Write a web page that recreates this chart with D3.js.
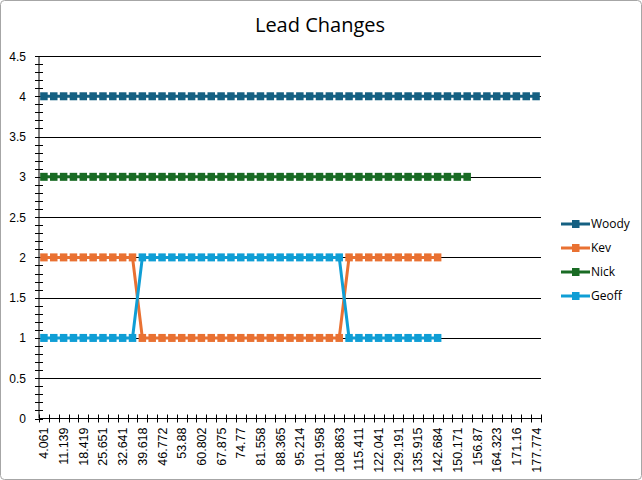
<!DOCTYPE html>
<html>
<head>
<meta charset="utf-8">
<script src="https://cdn.jsdelivr.net/npm/d3@7"></script>
<style>
  html, body { margin: 0; padding: 0; background: #fff; }
  svg { display: block; }
  text { font-family: "Liberation Sans", Arial, sans-serif; fill: #000; }
</style>
</head>
<body>
<svg id="chart" width="642" height="480"></svg>
<script>
/* Lead Changes line chart (Excel-style category axis) */
const tickLabels = ['4.061', '11.139', '18.419', '25.651', '32.641', '39.618', '46.772', '53.88',
  '60.802', '67.875', '74.77', '81.558', '88.365', '95.214', '101.958', '108.863', '115.411',
  '122.041', '129.191', '135.915', '142.684', '150.171', '156.87', '164.323', '171.16', '177.774'];
const categoryCount = 51; // labels shown on every other category

const woody = Array(51).fill(4);
const kev = [2, 2, 2, 2, 2, 2, 2, 2, 2, 2, 1, 1, 1, 1, 1, 1, 1, 1, 1, 1, 1, 1, 1, 1, 1, 1, 1, 1, 1, 1, 1,
  2, 2, 2, 2, 2, 2, 2, 2, 2, 2];
const nick = Array(44).fill(3);
const geoff = [1, 1, 1, 1, 1, 1, 1, 1, 1, 1, 2, 2, 2, 2, 2, 2, 2, 2, 2, 2, 2, 2, 2, 2, 2, 2, 2, 2, 2, 2, 2,
  1, 1, 1, 1, 1, 1, 1, 1, 1, 1];

const seriesNames = ['Woody', 'Kev', 'Nick', 'Geoff'];
const seriesValues = [woody, kev, nick, geoff];
const seriesColors = ['#156082', '#E97132', '#196B24', '#0F9ED5'];

const yTicks = d3.range(0, 4.51, 0.5);
const yMinor = d3.range(0, 4.51, 0.1);

(function () {
  const svg = d3.select('#chart');
  const W = 642, H = 480;
  const L = 39, R = 541, T = 56, B = 418.5;

  svg.append('rect')
    .attr('x', 0.5).attr('y', 0.5).attr('width', W - 1).attr('height', H - 1)
    .attr('rx', 4).attr('fill', '#fff').attr('stroke', '#a6a6a6');

  svg.append('text')
    .attr('x', 320).attr('y', 32)
    .attr('text-anchor', 'middle')
    .style('font-family', '"Open Sans", Lato, sans-serif')
    .style('font-size', '20px')
    .text('Lead Changes');

  const x = d3.scaleBand().domain(d3.range(categoryCount)).range([L, R]);
  const y = d3.scaleLinear().domain([0, 4.5]).range([B, T]);
  const cx = (i) => x(i) + x.bandwidth() / 2;

  // gridlines
  svg.append('g').selectAll('line').data(yTicks.filter((d) => d > 0)).join('line')
    .attr('x1', L - 4).attr('x2', R)
    .attr('y1', (d) => Math.round(y(d)) + 0.5).attr('y2', (d) => Math.round(y(d)) + 0.5)
    .attr('stroke', '#000').attr('stroke-width', 1);

  // y axis with minor crossing ticks
  const yAxis = svg.append('g');
  yAxis.append('line').attr('x1', L).attr('x2', L).attr('y1', T).attr('y2', B).attr('stroke', '#000');
  yAxis.selectAll('line.minor').data(yMinor).join('line').attr('class', 'minor')
    .attr('x1', L - 4).attr('x2', L + 4)
    .attr('y1', (d) => Math.round(y(d)) + 0.5).attr('y2', (d) => Math.round(y(d)) + 0.5)
    .attr('stroke', '#000');
  yAxis.selectAll('text').data(yTicks).join('text')
    .attr('x', L - 13).attr('y', (d) => y(d) + 4.5)
    .attr('text-anchor', 'end')
    .style('font-size', '12px')
    .text((d) => d3.format('')(d));

  // x axis with crossing ticks at category boundaries
  const xAxis = svg.append('g');
  xAxis.append('line').attr('x1', L).attr('x2', R).attr('y1', B).attr('y2', B).attr('stroke', '#000');
  const bounds = d3.range(categoryCount + 1).map((i) => L + i * x.step());
  xAxis.selectAll('line.tk').data(bounds).join('line').attr('class', 'tk')
    .attr('x1', (d) => Math.round(d) + 0.5).attr('x2', (d) => Math.round(d) + 0.5)
    .attr('y1', B - 4).attr('y2', B + 4)
    .attr('stroke', '#000');
  xAxis.selectAll('text').data(tickLabels).join('text')
    .attr('transform', (d, i) => `translate(${cx(i * 2) + 4.5},${B + 9}) rotate(-90)`)
    .attr('text-anchor', 'end')
    .style('font-size', '12.5px')
    .text((d) => d);

  // series
  const line = d3.line().x((d, i) => cx(i)).y((d) => y(d));
  seriesValues.forEach((vals, s) => {
    const g = svg.append('g');
    g.append('path').datum(vals)
      .attr('d', line).attr('fill', 'none')
      .attr('stroke', seriesColors[s]).attr('stroke-width', 3).attr('stroke-linejoin', 'round');
    g.selectAll('rect').data(vals).join('rect')
      .attr('x', (d, i) => cx(i) - 3.75).attr('y', (d) => y(d) - 4)
      .attr('width', 7.5).attr('height', 8)
      .attr('fill', seriesColors[s]);
  });

  // legend
  const legend = svg.append('g');
  seriesNames.forEach((name, s) => {
    const ly = 224 + s * 24;
    legend.append('line').attr('x1', 561).attr('x2', 590).attr('y1', ly).attr('y2', ly)
      .attr('stroke', seriesColors[s]).attr('stroke-width', 3);
    legend.append('rect').attr('x', 572).attr('y', ly - 4).attr('width', 7.5).attr('height', 8)
      .attr('fill', seriesColors[s]);
    legend.append('text').attr('x', 591).attr('y', ly + 4)
      .style('font-family', '"Open Sans", Lato, sans-serif')
      .style('font-size', '12px').text(name);
  });
})();
</script>
</body>
</html>
